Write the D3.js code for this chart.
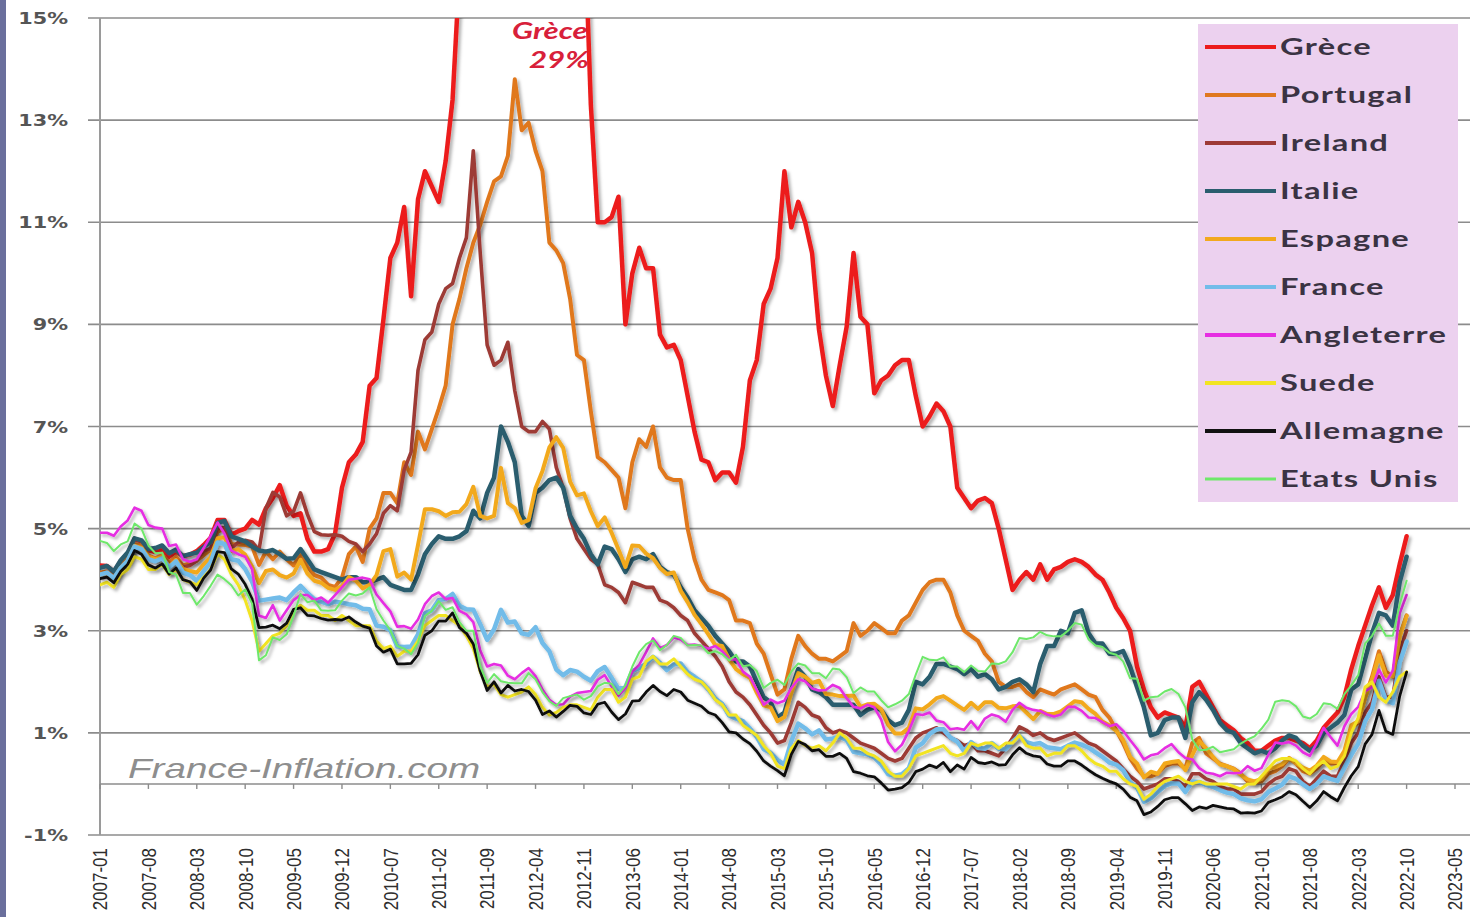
<!DOCTYPE html>
<html>
<head>
<meta charset="utf-8">
<script src="https://cdn.jsdelivr.net/npm/d3@7"></script>
<style>
  body { margin: 0; background: #fff; }
  svg { display: block; }
</style>
</head>
<body>
<div id="chart"></div>
<script>
// 10-year government bond yields (%), monthly from 2007-01 to 2022-10

const TICK_LABELS = [
  '2007-01', '2007-08', '2008-03', '2008-10', '2009-05', '2009-12', '2010-07', '2011-02',
  '2011-09', '2012-04', '2012-11', '2013-06', '2014-01', '2014-08', '2015-03', '2015-10',
  '2016-05', '2016-12', '2017-07', '2018-02', '2018-09', '2019-04', '2019-11', '2020-06',
  '2021-01', '2021-08', '2022-03', '2022-10', '2023-05'
]

const Y_TICKS = [-1, 1, 3, 5, 7, 9, 11, 13, 15]

const COUNTRIES = ['Grèce', 'Portugal', 'Ireland', 'Italie', 'Espagne', 'France',
  'Angleterre', 'Suede', 'Allemagne', 'Etats Unis']

const GRECE = [
  4.28, 4.27, 4.15, 4.36, 4.50, 4.80, 4.75, 4.58, 4.54, 4.60, 4.45, 4.55,
  4.46, 4.49, 4.56, 4.68, 4.82, 5.17, 5.17, 4.88, 4.95, 5.00, 5.17, 5.08,
  5.40, 5.60, 5.85, 5.45, 5.25, 5.30, 4.80, 4.55, 4.55, 4.60, 4.90, 5.80,
  6.30, 6.45, 6.70, 7.80, 7.95, 9.10, 10.30, 10.60, 11.30, 9.55, 11.45, 12.00,
  11.70, 11.40, 12.20, 13.40, 15.90, 16.70, 16.20, 15.90, 17.80, 18.00, 17.90, 21.10,
  25.90, 29.20, 19.10, 21.50, 26.90, 27.80, 25.80, 24.30, 20.90, 18.00, 17.20, 13.30,
  11.00, 11.00, 11.10, 11.50, 9.00, 10.00, 10.50, 10.10, 10.10, 8.80, 8.55, 8.60,
  8.30, 7.60, 6.90, 6.35, 6.30, 5.95, 6.10, 6.10, 5.90, 6.60, 7.90, 8.30,
  9.40, 9.70, 10.30, 12.00, 10.90, 11.40, 11.00, 10.40, 8.90, 8.00, 7.40, 8.20,
  8.95, 10.40, 9.15, 9.00, 7.65, 7.90, 8.00, 8.20, 8.30, 8.30, 7.60, 7.00,
  7.20, 7.45, 7.30, 7.00, 5.80, 5.60, 5.40, 5.55, 5.60, 5.50, 5.00, 4.40,
  3.80, 4.00, 4.15, 4.00, 4.30, 4.00, 4.20, 4.25, 4.35, 4.40, 4.35, 4.25,
  4.10, 4.00, 3.75, 3.45, 3.25, 3.00, 2.30, 1.85, 1.50, 1.30, 1.40, 1.35,
  1.30, 1.10, 1.90, 2.00, 1.75, 1.50, 1.25, 1.15, 1.05, 0.90, 0.80, 0.65,
  0.65, 0.75, 0.85, 0.90, 0.90, 0.85, 0.80, 0.70, 0.85, 1.10, 1.25, 1.40,
  1.70, 2.25, 2.70, 3.10, 3.50, 3.85, 3.45, 3.70, 4.30, 4.85
]

const PORTUGAL = [
  4.14, 4.16, 4.06, 4.27, 4.42, 4.70, 4.67, 4.47, 4.42, 4.48, 4.34, 4.45,
  4.28, 4.32, 4.37, 4.48, 4.59, 4.94, 4.99, 4.70, 4.69, 4.68, 4.65, 4.29,
  4.55, 4.40, 4.55, 4.40, 4.28, 4.51, 4.25, 4.09, 4.04, 3.90, 3.86, 4.04,
  4.50, 4.65, 4.35, 5.00, 5.20, 5.70, 5.70, 5.50, 6.30, 6.05, 6.90, 6.55,
  6.95, 7.35, 7.80, 9.00, 9.50, 10.10, 10.60, 10.95, 11.40, 11.80, 11.90, 12.30,
  13.80, 12.80, 12.95, 12.40, 12.00, 10.60, 10.45, 10.20, 9.50, 8.40, 8.30, 7.30,
  6.40, 6.30, 6.15, 6.00, 5.40, 6.30, 6.75, 6.60, 7.00, 6.20, 6.00, 5.95,
  5.95, 5.00, 4.40, 4.00, 3.80, 3.75, 3.70, 3.60, 3.20, 3.20, 3.15, 2.75,
  2.55, 2.15, 1.75, 1.85, 2.45, 2.90, 2.70, 2.55, 2.45, 2.45, 2.40, 2.50,
  2.60, 3.15, 2.90, 3.00, 3.15, 3.05, 2.95, 2.95, 3.20, 3.30, 3.55, 3.80,
  3.95, 4.00, 4.00, 3.75, 3.30, 3.00, 2.90, 2.80, 2.55, 2.40, 2.00, 1.90,
  1.90, 1.95, 1.80, 1.70, 1.85, 1.80, 1.75, 1.85, 1.90, 1.95, 1.85, 1.75,
  1.70, 1.45, 1.30, 1.05, 0.80, 0.50, 0.30, 0.15, 0.15, 0.20, 0.35, 0.40,
  0.40, 0.30, 0.80, 0.90, 0.60, 0.50, 0.40, 0.35, 0.30, 0.20, 0.05, 0.02,
  0.05, 0.20, 0.25, 0.35, 0.50, 0.40, 0.25, 0.20, 0.30, 0.45, 0.40, 0.40,
  0.60, 1.10, 1.20, 1.70, 2.10, 2.60, 2.20, 2.10, 2.90, 3.30
]

const IRELAND = [
  4.10, 4.12, 4.02, 4.23, 4.36, 4.64, 4.60, 4.41, 4.38, 4.45, 4.27, 4.40,
  4.25, 4.28, 4.37, 4.56, 4.61, 5.01, 5.02, 4.62, 4.73, 4.77, 4.74, 4.58,
  5.40, 5.71, 5.62, 5.25, 5.34, 5.70, 5.28, 4.94, 4.88, 4.87, 4.88, 4.85,
  4.75, 4.70, 4.55, 4.70, 4.90, 5.30, 5.45, 5.35, 6.15, 6.50, 8.10, 8.70,
  8.85, 9.40, 9.70, 9.80, 10.30, 10.70, 12.40, 10.40, 8.60, 8.20, 8.30, 8.65,
  7.70, 7.00, 6.90, 6.90, 7.10, 6.95, 6.20, 5.80, 5.20, 4.80, 4.60, 4.40,
  4.30, 3.90, 3.85, 3.75, 3.55, 3.95, 3.90, 3.85, 3.85, 3.60, 3.55, 3.45,
  3.30, 3.20, 2.95, 2.80, 2.65, 2.50, 2.30, 2.00, 1.80, 1.70, 1.55, 1.35,
  1.15, 1.00, 0.80, 0.85, 1.20, 1.60, 1.50, 1.35, 1.30, 1.10, 1.00, 1.05,
  1.00, 0.90, 0.80, 0.75, 0.70, 0.60, 0.50, 0.45, 0.50, 0.70, 0.90, 1.00,
  1.05, 1.10, 1.00, 0.90, 0.85, 0.75, 0.80, 0.65, 0.65, 0.60, 0.55, 0.70,
  0.90, 1.12, 1.05, 0.95, 1.00, 0.90, 0.85, 0.90, 0.95, 1.00, 0.90, 0.80,
  0.75, 0.65, 0.55, 0.45, 0.30, 0.15, 0.05, -0.10, -0.05, 0.00, 0.10, 0.10,
  0.05, -0.05, 0.20, 0.20, 0.10, 0.05, -0.05, -0.10, -0.10, -0.20, -0.20, -0.20,
  -0.15, 0.00, 0.10, 0.15, 0.30, 0.25, 0.05, -0.05, 0.10, 0.25, 0.15, 0.15,
  0.45, 0.80, 1.00, 1.40, 1.60, 2.10, 1.70, 1.70, 2.60, 3.00
]

const ITALIE = [
  4.23, 4.27, 4.16, 4.38, 4.53, 4.81, 4.77, 4.60, 4.62, 4.67, 4.52, 4.59,
  4.46, 4.50, 4.53, 4.64, 4.74, 5.11, 5.15, 4.85, 4.80, 4.75, 4.65, 4.57,
  4.55, 4.58, 4.50, 4.41, 4.42, 4.60, 4.40, 4.20, 4.15, 4.10, 4.05, 4.00,
  4.05, 4.05, 3.95, 3.95, 4.00, 4.05, 3.90, 3.85, 3.80, 3.80, 4.10, 4.50,
  4.70, 4.85, 4.80, 4.80, 4.85, 4.95, 5.35, 5.20, 5.70, 6.00, 7.00, 6.70,
  6.30, 5.25, 5.05, 5.70, 5.80, 5.95, 6.00, 5.80, 5.25, 5.00, 4.80, 4.50,
  4.30, 4.65, 4.60, 4.40, 4.15, 4.40, 4.45, 4.40, 4.50, 4.25, 4.15, 4.10,
  3.85, 3.65, 3.40, 3.25, 3.10, 2.90, 2.75, 2.60, 2.40, 2.40, 2.30, 2.00,
  1.70, 1.60, 1.30, 1.40, 1.85, 2.25, 2.10, 1.85, 1.80, 1.70, 1.55, 1.55,
  1.55, 1.55, 1.35, 1.45, 1.50, 1.45, 1.25, 1.15, 1.20, 1.45, 2.00, 1.95,
  2.10, 2.35, 2.35, 2.30, 2.25, 2.15, 2.25, 2.10, 2.15, 2.05, 1.85, 1.90,
  2.00, 2.05, 1.95, 1.80, 2.35, 2.70, 2.70, 3.00, 2.95, 3.35, 3.40, 2.95,
  2.75, 2.75, 2.55, 2.55, 2.60, 2.30, 1.90, 1.50, 0.95, 1.00, 1.25, 1.30,
  1.30, 0.90, 1.60, 1.80, 1.65, 1.45, 1.20, 1.05, 1.00, 0.80, 0.70, 0.60,
  0.65, 0.60, 0.70, 0.85, 0.95, 0.90, 0.75, 0.65, 0.75, 1.00, 1.10, 1.20,
  1.35, 1.85, 1.95, 2.45, 2.95, 3.35, 3.30, 3.10, 3.95, 4.45
]

const ESPAGNE = [
  4.10, 4.13, 4.02, 4.23, 4.37, 4.66, 4.62, 4.45, 4.40, 4.45, 4.26, 4.39,
  4.21, 4.17, 4.14, 4.30, 4.44, 4.81, 4.83, 4.56, 4.60, 4.49, 4.26, 3.93,
  4.17, 4.20, 4.09, 4.04, 4.12, 4.39, 4.12, 3.98, 3.94, 3.84, 3.80, 3.87,
  4.05, 3.98, 3.83, 3.90, 4.09, 4.56, 4.60, 4.06, 4.14, 4.00, 4.68, 5.38,
  5.38, 5.34, 5.25, 5.32, 5.33, 5.48, 5.82, 5.25, 5.20, 5.25, 6.19, 5.50,
  5.40, 5.11, 5.17, 5.79, 6.13, 6.59, 6.79, 6.58, 5.92, 5.65, 5.69, 5.34,
  5.05, 5.22, 4.92, 4.59, 4.25, 4.67, 4.66, 4.51, 4.42, 4.23, 4.11, 4.14,
  3.78, 3.56, 3.31, 3.13, 2.93, 2.72, 2.70, 2.44, 2.25, 2.15, 2.08, 1.79,
  1.54, 1.50, 1.23, 1.31, 1.78, 2.17, 2.10, 1.98, 2.02, 1.76, 1.75, 1.72,
  1.72, 1.73, 1.51, 1.56, 1.57, 1.46, 1.16, 0.99, 0.99, 1.10, 1.48, 1.46,
  1.56, 1.68, 1.72, 1.63, 1.54, 1.45, 1.59, 1.47, 1.60, 1.60, 1.49, 1.48,
  1.52, 1.53, 1.40, 1.27, 1.43, 1.37, 1.37, 1.42, 1.52, 1.62, 1.60, 1.47,
  1.37, 1.22, 1.15, 1.04, 0.86, 0.53, 0.40, 0.13, 0.24, 0.20, 0.40, 0.43,
  0.45, 0.27, 0.57, 0.84, 0.70, 0.53, 0.38, 0.35, 0.29, 0.18, 0.09, 0.05,
  0.10, 0.29, 0.33, 0.39, 0.51, 0.41, 0.32, 0.26, 0.36, 0.53, 0.44, 0.43,
  0.65, 1.15, 1.23, 1.68, 2.04, 2.52, 2.12, 2.11, 2.88, 3.29
]

const FRANCE = [
  4.10, 4.14, 4.03, 4.23, 4.37, 4.65, 4.60, 4.40, 4.36, 4.42, 4.24, 4.36,
  4.14, 4.09, 3.98, 4.17, 4.34, 4.73, 4.70, 4.40, 4.37, 4.21, 3.96, 3.59,
  3.61, 3.63, 3.65, 3.60, 3.75, 3.88, 3.74, 3.62, 3.57, 3.52, 3.57, 3.55,
  3.52, 3.50, 3.43, 3.42, 3.10, 3.08, 3.01, 2.69, 2.68, 2.69, 2.93, 3.34,
  3.40, 3.60, 3.62, 3.72, 3.49, 3.42, 3.41, 3.13, 2.82, 3.03, 3.41, 3.16,
  3.18, 2.95, 2.92, 3.07, 2.76, 2.60, 2.24, 2.13, 2.23, 2.20, 2.10, 2.02,
  2.21, 2.29, 2.08, 1.86, 1.90, 2.21, 2.27, 2.35, 2.49, 2.37, 2.23, 2.34,
  2.36, 2.19, 2.10, 2.00, 1.85, 1.67, 1.57, 1.34, 1.28, 1.23, 1.09, 0.92,
  0.68, 0.61, 0.47, 0.38, 0.84, 1.18, 1.09, 0.97, 1.05, 0.87, 0.89, 0.92,
  0.86, 0.63, 0.60, 0.58, 0.52, 0.38, 0.19, 0.16, 0.19, 0.31, 0.71, 0.80,
  0.98, 1.07, 1.07, 0.91, 0.83, 0.64, 0.82, 0.71, 0.69, 0.80, 0.69, 0.68,
  0.83, 0.94, 0.82, 0.78, 0.80, 0.72, 0.70, 0.68, 0.75, 0.81, 0.77, 0.71,
  0.62, 0.53, 0.42, 0.38, 0.27, 0.04, -0.07, -0.35, -0.28, -0.16, -0.04, 0.01,
  0.01, -0.16, 0.05, 0.04, -0.02, -0.06, -0.12, -0.17, -0.20, -0.28, -0.32, -0.34,
  -0.30, -0.16, -0.09, -0.01, 0.15, 0.10, -0.01, -0.10, 0.00, 0.15, 0.10, 0.06,
  0.32, 0.57, 0.79, 1.23, 1.46, 2.02, 1.64, 1.58, 2.38, 2.79
]

const ANGLETERRE = [
  4.92, 4.92, 4.86, 5.04, 5.16, 5.41, 5.35, 5.07, 5.02, 5.00, 4.66, 4.69,
  4.40, 4.35, 4.40, 4.62, 4.86, 5.12, 4.90, 4.57, 4.50, 4.45, 4.20, 3.30,
  3.25, 3.50, 3.20, 3.40, 3.60, 3.70, 3.70, 3.60, 3.65, 3.55, 3.70, 3.85,
  4.00, 4.02, 4.04, 4.01, 3.71, 3.54, 3.38, 3.08, 3.09, 3.04, 3.22, 3.52,
  3.68, 3.75, 3.62, 3.64, 3.39, 3.32, 3.17, 2.62, 2.30, 2.35, 2.32, 2.12,
  2.05, 2.17, 2.27, 2.11, 1.85, 1.65, 1.55, 1.56, 1.71, 1.78, 1.80, 1.82,
  2.04, 2.13, 1.91, 1.73, 1.88, 2.20, 2.33, 2.58, 2.85, 2.66, 2.72, 2.87,
  2.83, 2.72, 2.73, 2.70, 2.65, 2.70, 2.60, 2.44, 2.44, 2.20, 2.10, 1.84,
  1.55, 1.65, 1.58, 1.63, 1.88, 2.05, 2.01, 1.87, 1.83, 1.84, 1.94, 1.88,
  1.68, 1.51, 1.48, 1.55, 1.50, 1.26, 0.82, 0.64, 0.77, 1.04, 1.37, 1.35,
  1.40, 1.24, 1.21, 1.07, 1.09, 1.06, 1.23, 1.07, 1.28, 1.36, 1.32, 1.22,
  1.45, 1.59, 1.49, 1.45, 1.43, 1.36, 1.32, 1.36, 1.51, 1.51, 1.43, 1.30,
  1.29, 1.21, 1.13, 1.17, 1.04, 0.86, 0.69, 0.48, 0.56, 0.59, 0.70, 0.78,
  0.62, 0.51, 0.48, 0.31, 0.22, 0.20, 0.15, 0.22, 0.21, 0.22, 0.35, 0.26,
  0.31, 0.57, 0.81, 0.79, 0.82, 0.75, 0.62, 0.55, 0.80, 1.10, 0.92, 0.75,
  1.13, 1.37, 1.51, 1.82, 1.89, 2.24, 1.99, 2.22, 3.34, 3.70
]

const SUEDE = [
  3.90, 3.95, 3.85, 4.10, 4.20, 4.45, 4.40, 4.20, 4.20, 4.30, 4.10, 4.20,
  4.00, 3.95, 3.90, 4.05, 4.20, 4.50, 4.40, 4.10, 3.90, 3.60, 3.20, 2.60,
  2.75, 2.90, 2.95, 3.10, 3.40, 3.50, 3.40, 3.40, 3.30, 3.30, 3.20, 3.30,
  3.20, 3.10, 3.10, 3.10, 2.80, 2.65, 2.70, 2.50, 2.60, 2.60, 2.80, 3.10,
  3.20, 3.30, 3.30, 3.20, 3.10, 2.90, 2.65, 2.20, 1.90, 1.95, 1.75, 1.70,
  1.75, 1.80, 1.90, 1.75, 1.50, 1.35, 1.40, 1.50, 1.55, 1.55, 1.50, 1.45,
  1.70, 1.85, 1.85, 1.60, 1.70, 2.05, 2.10, 2.40, 2.50, 2.35, 2.35, 2.45,
  2.30, 2.15, 2.05, 2.00, 1.85, 1.65, 1.55, 1.35, 1.35, 1.15, 1.05, 0.95,
  0.75, 0.60, 0.35, 0.30, 0.70, 0.85, 0.75, 0.70, 0.75, 0.65, 0.80, 1.00,
  0.90, 0.70, 0.70, 0.60, 0.55, 0.45, 0.25, 0.15, 0.15, 0.30, 0.55, 0.60,
  0.65, 0.70, 0.75, 0.60, 0.55, 0.60, 0.80, 0.75, 0.80, 0.80, 0.70, 0.80,
  0.80, 0.95, 0.75, 0.70, 0.70, 0.55, 0.60, 0.60, 0.75, 0.75, 0.65, 0.50,
  0.40, 0.35, 0.25, 0.25, 0.10, 0.00, -0.05, -0.30, -0.20, -0.05, 0.05, 0.10,
  0.15, 0.05, 0.00, 0.05, 0.00, 0.00, 0.00, 0.00, -0.05, -0.10, 0.00, 0.00,
  0.15, 0.30, 0.45, 0.50, 0.50, 0.45, 0.30, 0.20, 0.35, 0.45, 0.30, 0.35,
  0.55, 1.00, 1.30, 1.90, 2.00, 1.70, 1.60, 1.80, 2.10, 2.20
]

const ALLEMAGNE = [
  4.02, 4.05, 3.94, 4.16, 4.30, 4.57, 4.50, 4.29, 4.23, 4.31, 4.11, 4.23,
  4.00, 3.96, 3.79, 4.03, 4.19, 4.55, 4.53, 4.21, 4.11, 3.91, 3.62, 3.06,
  3.07, 3.11, 3.04, 3.15, 3.42, 3.45, 3.30, 3.29, 3.24, 3.21, 3.22, 3.21,
  3.27, 3.17, 3.09, 3.05, 2.70, 2.58, 2.64, 2.35, 2.35, 2.36, 2.53, 2.91,
  3.00, 3.19, 3.19, 3.35, 3.06, 2.95, 2.74, 2.21, 1.83, 2.00, 1.78, 1.93,
  1.82, 1.85, 1.81, 1.64, 1.36, 1.43, 1.31, 1.42, 1.54, 1.52, 1.39, 1.36,
  1.56, 1.60, 1.41, 1.26, 1.37, 1.62, 1.63, 1.80, 1.93, 1.81, 1.73, 1.85,
  1.80, 1.64, 1.58, 1.52, 1.40, 1.35, 1.20, 1.02, 1.00, 0.88, 0.79, 0.64,
  0.45, 0.35, 0.26, 0.16, 0.58, 0.83, 0.77, 0.65, 0.67, 0.54, 0.54, 0.60,
  0.50, 0.24, 0.21, 0.16, 0.14, 0.02, -0.12, -0.10, -0.07, 0.03, 0.24, 0.29,
  0.37, 0.32, 0.42, 0.24, 0.37, 0.29, 0.52, 0.42, 0.40, 0.43, 0.37, 0.38,
  0.57, 0.71, 0.60, 0.55, 0.53, 0.39, 0.35, 0.35, 0.45, 0.45, 0.37, 0.27,
  0.18, 0.11, 0.05, 0.00, -0.10, -0.26, -0.33, -0.60, -0.55, -0.44, -0.31, -0.27,
  -0.27, -0.39, -0.52, -0.45, -0.48, -0.42, -0.45, -0.48, -0.49, -0.57, -0.56, -0.57,
  -0.53, -0.36, -0.31, -0.25, -0.15, -0.21, -0.34, -0.46, -0.33, -0.15, -0.25, -0.33,
  -0.07, 0.16, 0.34, 0.78, 0.97, 1.44, 1.03, 0.97, 1.72, 2.19
]

const ETATS_UNIS = [
  4.76, 4.72, 4.56, 4.69, 4.75, 5.10, 5.00, 4.67, 4.52, 4.53, 4.15, 4.10,
  3.74, 3.74, 3.51, 3.68, 3.88, 4.10, 4.01, 3.89, 3.69, 3.81, 3.53, 2.42,
  2.52, 2.87, 2.82, 2.93, 3.29, 3.72, 3.56, 3.59, 3.40, 3.39, 3.40, 3.59,
  3.73, 3.69, 3.73, 3.85, 3.42, 3.20, 3.01, 2.70, 2.65, 2.54, 2.76, 3.29,
  3.39, 3.58, 3.41, 3.46, 3.17, 3.00, 3.00, 2.30, 1.98, 2.15, 2.01, 1.98,
  1.97, 1.97, 2.17, 2.05, 1.80, 1.62, 1.53, 1.68, 1.72, 1.75, 1.65, 1.72,
  1.91, 1.98, 1.96, 1.76, 1.93, 2.30, 2.58, 2.74, 2.81, 2.62, 2.72, 2.90,
  2.86, 2.71, 2.72, 2.71, 2.56, 2.60, 2.54, 2.42, 2.53, 2.30, 2.33, 2.21,
  1.88, 1.98, 2.04, 1.94, 2.20, 2.36, 2.32, 2.17, 2.17, 2.07, 2.26, 2.24,
  2.09, 1.78, 1.89, 1.81, 1.81, 1.64, 1.50, 1.56, 1.63, 1.76, 2.14, 2.49,
  2.43, 2.42, 2.48, 2.30, 2.30, 2.19, 2.32, 2.21, 2.20, 2.36, 2.35, 2.40,
  2.58, 2.86, 2.84, 2.87, 2.98, 2.91, 2.89, 2.89, 3.00, 3.15, 3.12, 2.83,
  2.71, 2.68, 2.57, 2.53, 2.40, 2.07, 2.06, 1.63, 1.70, 1.71, 1.81, 1.86,
  1.76, 1.50, 0.87, 0.66, 0.67, 0.73, 0.62, 0.65, 0.68, 0.79, 0.87, 0.93,
  1.08, 1.26, 1.61, 1.64, 1.62, 1.52, 1.32, 1.28, 1.37, 1.58, 1.56, 1.47,
  1.76, 1.93, 2.13, 2.75, 2.90, 3.14, 2.90, 2.90, 3.52, 3.98
]

const SERIES_VALUES = [GRECE, PORTUGAL, IRELAND, ITALIE, ESPAGNE, FRANCE,
  ANGLETERRE, SUEDE, ALLEMAGNE, ETATS_UNIS]

// look of each line, kept apart from the data
const LINE_STYLE = {
  'Grèce':      { color: '#ec1c1c', width: 4.5 },
  'Portugal':   { color: '#e0781f', width: 4 },
  'Ireland':    { color: '#9d3a36', width: 3.6 },
  'Italie':     { color: '#2a5d6e', width: 4.5 },
  'Espagne':    { color: '#f2a91e', width: 4 },
  'France':     { color: '#72bce9', width: 4.5 },
  'Angleterre': { color: '#e62ee2', width: 2.6 },
  'Suede':      { color: '#f2e422', width: 3 },
  'Allemagne':  { color: '#111111', width: 2.8 },
  'Etats Unis': { color: '#6ee86a', width: 2 }
}

const WIDTH = 1473
const HEIGHT = 917
const PLOT = { left: 100, right: 1470, top: 18, bottom: 835 }
const STRETCH = 1.42

function monthIndex(label) {
  let [yy, mm] = label.split('-').map(Number)
  return (yy - 2007) * 12 + (mm - 1)
}

const svg = d3.select('#chart')
  .append('svg')
    .attr('width', WIDTH)
    .attr('height', HEIGHT)

let x = d3.scaleLinear()
  .domain([0, monthIndex('2023-05')])
  .range([PLOT.left, 1455])

let y = d3.scaleLinear()
  .domain([-1, 15])
  .range([PLOT.bottom, PLOT.top])

let defs = svg.append('defs')

defs.append('clipPath')
    .attr('id', 'plot-clip')
  .append('rect')
    .attr('x', PLOT.left)
    .attr('y', PLOT.top)
    .attr('width', PLOT.right - PLOT.left)
    .attr('height', PLOT.bottom - PLOT.top)

defs.append('filter')
    .attr('id', 'shadow')
    .attr('x', '-5%').attr('y', '-5%')
    .attr('width', '110%').attr('height', '110%')
  .append('feDropShadow')
    .attr('dx', 2.5)
    .attr('dy', 2.5)
    .attr('stdDeviation', 1.8)
    .attr('flood-color', '#000')
    .attr('flood-opacity', 0.3)

// left border strip of the original picture
svg.append('rect')
  .attr('x', 0).attr('y', 0)
  .attr('width', 6).attr('height', HEIGHT)
  .attr('fill', '#6a6f9c')

// horizontal grid
svg.append('g')
    .attr('class', 'grid')
  .selectAll('line')
    .data(Y_TICKS)
  .join('line')
    .attr('x1', 88)
    .attr('x2', PLOT.right)
    .attr('y1', (d) => y(d))
    .attr('y2', (d) => y(d))
    .attr('stroke', '#8c8c8c')
    .attr('stroke-width', 1.6)

// vertical axis
svg.append('line')
  .attr('x1', PLOT.left).attr('x2', PLOT.left)
  .attr('y1', y(15)).attr('y2', y(-1))
  .attr('stroke', '#9a9a9a')
  .attr('stroke-width', 2)

// category axis crossing at 0%
let zeroAxis = svg.append('g').attr('class', 'zero-axis')

zeroAxis.append('line')
  .attr('x1', PLOT.left).attr('x2', PLOT.right)
  .attr('y1', y(0)).attr('y2', y(0))
  .attr('stroke', '#8c8c8c')
  .attr('stroke-width', 1.6)

zeroAxis.selectAll('.tick')
    .data(TICK_LABELS)
  .join('line')
    .attr('class', 'tick')
    .attr('x1', (d) => x(monthIndex(d)))
    .attr('x2', (d) => x(monthIndex(d)))
    .attr('y1', y(0))
    .attr('y2', y(0) + 5)
    .attr('stroke', '#8c8c8c')
    .attr('stroke-width', 1.4)

// y labels
svg.append('g')
    .attr('class', 'y-labels')
  .selectAll('text')
    .data(Y_TICKS)
  .join('text')
    .attr('transform', (d) => 'translate(68,' + (y(d) + 6) + ') scale(1.3,1)')
    .attr('text-anchor', 'end')
    .attr('font-family', 'DejaVu Sans, sans-serif')
    .attr('font-weight', 'bold')
    .attr('font-size', 16)
    .attr('fill', '#555')
    .text((d) => d + '%')

// x labels, vertical
svg.append('g')
    .attr('class', 'x-labels')
  .selectAll('text')
    .data(TICK_LABELS)
  .join('text')
    .attr('transform', (d) => 'translate(' + x(monthIndex(d)) + ',848) scale(1.2,1) rotate(-90)')
    .attr('text-anchor', 'end')
    .attr('dy', '0.36em')
    .attr('font-family', 'Liberation Sans, Arial, sans-serif')
    .attr('font-size', 17)
    .attr('fill', '#2e2e2e')
    .text((d) => d)

// watermark
svg.append('text')
  .attr('transform', 'translate(128,778) scale(1.38,1)')
  .attr('font-family', 'Liberation Sans, Arial, sans-serif')
  .attr('font-style', 'italic')
  .attr('font-size', 28)
  .attr('fill', '#8e8e8e')
  .text('France-Inflation.com')

// lines
let line = d3.line()
  .x((d, i) => x(i))
  .y((d) => y(d))

let series = COUNTRIES.map((name, k) => ({ name: name, values: SERIES_VALUES[k] }))

svg.append('g')
    .attr('class', 'lines')
    .attr('clip-path', 'url(#plot-clip)')
  .selectAll('path')
    .data(series)
  .join('path')
    .attr('d', (d) => line(d.values))
    .attr('fill', 'none')
    .attr('stroke', (d) => LINE_STYLE[d.name].color)
    .attr('stroke-width', (d) => LINE_STYLE[d.name].width)
    .attr('stroke-linejoin', 'round')
    .attr('stroke-linecap', 'round')
    .attr('filter', 'url(#shadow)')

// Greece peak note
let note = svg.append('g')
  .attr('font-family', 'Lato, sans-serif')
  .attr('font-weight', 'bold')
  .attr('font-style', 'italic')
  .attr('font-size', 22)
  .attr('fill', '#d8203a')

note.append('text')
  .attr('transform', 'translate(512,39) scale(' + STRETCH + ',1)')
  .text('Grèce')

note.append('text')
  .attr('transform', 'translate(529,68) scale(' + STRETCH + ',1)')
  .text('29%')

// legend
let legend = svg.append('g').attr('class', 'legend')

legend.append('rect')
  .attr('x', 1198).attr('y', 24)
  .attr('width', 260).attr('height', 478)
  .attr('fill', '#ecd1ef')

let item = legend.selectAll('.item')
    .data(COUNTRIES)
  .join('g')
    .attr('class', 'item')
    .attr('transform', (d, i) => 'translate(0,' + (47 + i * 48) + ')')

item.append('line')
  .attr('x1', 1205).attr('x2', 1276)
  .attr('stroke', (d) => LINE_STYLE[d].color)
  .attr('stroke-width', (d) => d === 'Etats Unis' ? 3 : 4)

item.append('text')
  .attr('transform', 'translate(1280,8) scale(' + STRETCH + ',1)')
  .attr('font-family', 'Lato, sans-serif')
  .attr('font-weight', 'bold')
  .attr('font-size', 23)
  .attr('letter-spacing', 0.9)
  .attr('fill', '#3a3343')
  .text((d) => d)
</script>
</body>
</html>
